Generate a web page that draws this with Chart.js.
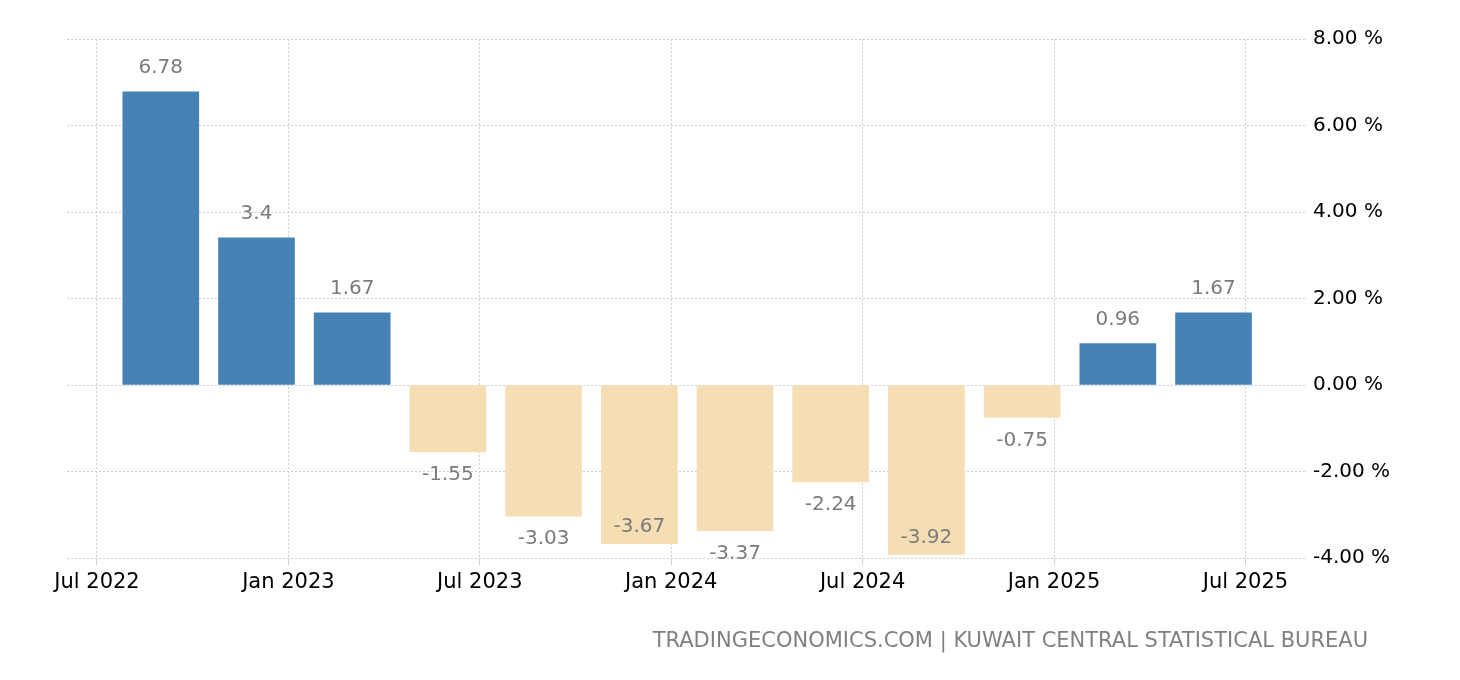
<!DOCTYPE html>
<html>
<head>
<meta charset="utf-8">
<script src="https://cdn.jsdelivr.net/npm/chart.js@4"></script>
<style>
  html, body { margin: 0; padding: 0; background: #fff; }
  #wrap { width: 1460px; height: 680px; position: relative; }
</style>
</head>
<body>
<div id="wrap"><canvas id="chart" width="1460" height="680"></canvas></div>
<script>
// quarterly readings, dated at the month they are plotted on
const categories = ["2022-09", "2022-12", "2023-03", "2023-06", "2023-09", "2023-12",
  "2024-03", "2024-06", "2024-09", "2024-12", "2025-03", "2025-06"];
const values = [6.78, 3.4, 1.67, -1.55, -3.03, -3.67, -3.37, -2.24, -3.92, -0.75, 0.96, 1.67];
const tickLabels = ["Jul 2022", "Jan 2023", "Jul 2023", "Jan 2024", "Jul 2024", "Jan 2025", "Jul 2025"];
const yTicks = [-4, -2, 0, 2, 4, 6, 8];

const FONT = "'DejaVu Sans', sans-serif";

// months counted from Jul 2022
function monthIndex(s) {
  const [y, m] = s.split("-").map(Number);
  return (y - 2022) * 12 + (m - 7);
}

const points = categories.map((c, i) => ({ x: monthIndex(c), y: values[i] }));

const valueLabels = {
  id: "valueLabels",
  afterDatasetsDraw(chart) {
    const ctx = chart.ctx;
    const meta = chart.getDatasetMeta(0);
    const bottom = chart.chartArea.bottom;
    ctx.save();
    ctx.font = "20px " + FONT;
    ctx.fillStyle = "#7b7b7b";
    ctx.textAlign = "center";
    ctx.textBaseline = "middle";
    meta.data.forEach((bar, i) => {
      const v = values[i];
      let y;
      if (v >= 0) {
        y = bar.y - 24;
      } else {
        y = bar.y + 23;
        // no room under the bar: put it inside
        if (y > bottom - 2) y = bar.y - 17;
      }
      ctx.fillText(String(v), bar.x, y);
    });
    ctx.restore();
  }
};

new Chart(document.getElementById("chart").getContext("2d"), {
  type: "bar",
  data: {
    datasets: [{
      data: points,
      barThickness: 76,
      backgroundColor: values.map(v => v >= 0 ? "#4682B4" : "#F5DEB3"),
      borderWidth: 0
    }]
  },
  options: {
    responsive: false,
    animation: false,
    layout: { padding: { left: 67, top: 39, right: 0, bottom: 70 } },
    plugins: {
      legend: { display: false },
      tooltip: { enabled: false }
    },
    scales: {
      x: {
        type: "linear",
        min: -0.94,
        max: 37.93,
        offset: false,
        afterBuildTicks(scale) {
          scale.ticks = tickLabels.map((t, i) => ({ value: i * 6 }));
        },
        afterFit(scale) { scale.height = 52; },
        grid: {
          offset: false,
          color: "#cfcfcf",
          tickColor: "#cfcfcf",
          tickLength: 7
        },
        border: { display: false, dash: [2, 2] },
        ticks: {
          color: "#000",
          font: { family: FONT, size: 21 },
          padding: 5,
          maxRotation: 0,
          autoSkip: false,
          callback: (v) => tickLabels[v / 6]
        }
      },
      y: {
        position: "right",
        min: -4,
        max: 8,
        afterBuildTicks(scale) {
          scale.ticks = yTicks.map(v => ({ value: v }));
        },
        afterFit(scale) { scale.width = 153; },
        grid: { color: "#cfcfcf", drawTicks: false },
        border: { display: false, dash: [2, 2] },
        ticks: {
          color: "#000",
          font: { family: FONT, size: 20 },
          padding: 6,
          callback: (v) => v.toFixed(2) + " %"
        }
      }
    }
  },
  plugins: [valueLabels, {
    id: "footer",
    afterDraw(chart) {
      const ctx = chart.ctx;
      ctx.save();
      ctx.font = "21px " + FONT;
      ctx.fillStyle = "#808080";
      ctx.textAlign = "right";
      ctx.textBaseline = "middle";
      ctx.fillText("TRADINGECONOMICS.COM | KUWAIT CENTRAL STATISTICAL BUREAU", 1368, 642);
      ctx.restore();
    }
  }]
});
</script>
</body>
</html>
